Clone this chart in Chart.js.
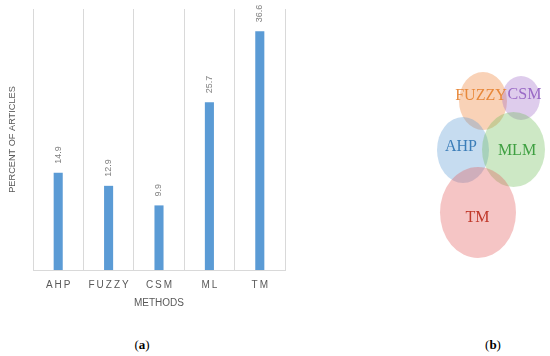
<!DOCTYPE html>
<html>
  <head>
    <title>Methods</title>
    <script src="https://cdn.jsdelivr.net/npm/chart.js"></script>
    <style>
      body { margin: 0; background: #fff; width: 550px; height: 356px; position: relative; overflow: hidden; }
      .painel { position: absolute; }
      .legenda { position: absolute; font-family: "Liberation Serif", serif; font-size: 13px; color: #000; transform: translate(-50%, -50%); }
    </style>
  </head>

  <body>
    <div class="painel" style="left: 0; top: 0; width: 300px; height: 310px">
      <canvas id="metodos"></canvas>
    </div>
    <div class="painel" style="left: 400px; top: 50px; width: 150px; height: 230px">
      <canvas id="venn"></canvas>
    </div>
    <div class="legenda" style="left: 142px; top: 345px">(<b>a</b>)</div>
    <div class="legenda" style="left: 493px; top: 345px">(<b>b</b>)</div>

    <script>
      // (a) barras
      var metodos = ["AHP", "FUZZY", "CSM", "ML", "TM"];
      var percentuais = [14.9, 12.9, 9.9, 25.7, 36.6];

      // (b) conjuntos, em unidades do grafico
      var conjuntos = ["FUZZY", "CSM", "AHP", "MLM", "TM"];
      var centroX = [83, 121, 63, 113.5, 78];
      var centroY = [51, 48, 100, 99.5, 162.5];
      var raioX = [24, 19, 26, 31.5, 38];
      var raioY = [29, 22, 33, 37.5, 45.5];
      var textoX = [81, 124.5, 61, 117, 77.5];
      var textoY = [45.5, 45, 96.5, 101, 167.5];

      var preenchimentos = [
        "rgba(237,125,49,0.35)",
        "rgba(160,110,200,0.35)",
        "rgba(91,155,213,0.35)",
        "rgba(112,190,90,0.35)",
        "rgba(225,90,90,0.35)",
      ];
      var corTexto = ["#e8883a", "#9a6ac6", "#3b7db8", "#3fa042", "#c0392b"];

      var rotulosBarras = {
        id: "rotulosBarras",
        afterDatasetsDraw(chart) {
          var ctx = chart.ctx;
          var meta = chart.getDatasetMeta(0);
          ctx.save();
          ctx.font = "9px 'Liberation Sans'";
          ctx.fillStyle = "#7f7f7f";
          ctx.textAlign = "left";
          ctx.textBaseline = "middle";
          meta.data.forEach((barra, i) => {
            ctx.save();
            ctx.translate(barra.x, barra.y - 9);
            ctx.rotate(-Math.PI / 2);
            ctx.fillText(percentuais[i].toFixed(1), 0, 0);
            ctx.restore();
          });
          ctx.restore();
        },
      };

      var rotulosEixo = {
        id: "rotulosEixo",
        afterDraw(chart) {
          var ctx = chart.ctx;
          var x = chart.scales.x;
          ctx.save();
          ctx.font = "10px 'Liberation Sans'";
          ctx.letterSpacing = "2px";
          ctx.fillStyle = "#595959";
          ctx.textAlign = "center";
          ctx.textBaseline = "middle";
          metodos.forEach((m, i) => {
            ctx.fillText(m, x.getPixelForValue(i) + 1, x.top + 15);
          });
          ctx.restore();
        },
      };

      var graficoBarras = new Chart(document.getElementById("metodos").getContext("2d"), {
        type: "bar",
        data: {
          labels: metodos,
          datasets: [
            {
              label: "Percent of articles",
              data: percentuais,
              backgroundColor: "#5b9bd5",
              barPercentage: 0.18,
              categoryPercentage: 1,
            },
          ],
        },
        options: {
          responsive: true,
          maintainAspectRatio: false,
          animation: false,
          layout: { padding: { top: 9, right: 15, left: 0, bottom: 0 } },
          plugins: { legend: { display: false }, tooltip: { enabled: false } },
          scales: {
            x: {
              grid: { display: true, offset: true, color: "#d9d9d9", drawTicks: false },
              border: { display: true, color: "#d9d9d9" },
              ticks: { display: false },
              title: {
                display: true,
                text: "METHODS",
                color: "#595959",
                font: { family: "Liberation Sans", size: 10 },
                padding: { top: 0, bottom: 1 },
              },
              afterFit(scale) {
                scale.height = 40;
              },
            },
            y: {
              min: 0,
              max: 40,
              grid: { display: false },
              border: { display: false },
              ticks: { display: false },
              title: {
                display: true,
                text: "PERCENT OF ARTICLES",
                color: "#595959",
                font: { family: "Liberation Sans", size: 9.2 },
                padding: { top: 7, bottom: 0 },
              },
              afterFit(scale) {
                scale.width = 33;
              },
            },
          },
        },
        plugins: [rotulosBarras, rotulosEixo],
      });

      var elipses = {
        id: "elipses",
        afterDatasetsDraw(chart) {
          var ctx = chart.ctx;
          var sx = chart.scales.x;
          var sy = chart.scales.y;
          ctx.save();
          conjuntos.forEach((nome, i) => {
            var cx = sx.getPixelForValue(centroX[i]);
            var cy = sy.getPixelForValue(centroY[i]);
            var rx = Math.abs(sx.getPixelForValue(centroX[i] + raioX[i]) - cx);
            var ry = Math.abs(sy.getPixelForValue(centroY[i] + raioY[i]) - cy);
            ctx.beginPath();
            ctx.ellipse(cx, cy, rx, ry, 0, 0, 2 * Math.PI);
            ctx.fillStyle = preenchimentos[i];
            ctx.fill();
          });
          ctx.font = "16px 'Liberation Serif'";
          ctx.textAlign = "center";
          ctx.textBaseline = "middle";
          conjuntos.forEach((nome, i) => {
            ctx.fillStyle = corTexto[i];
            ctx.fillText(nome, sx.getPixelForValue(textoX[i]), sy.getPixelForValue(textoY[i]));
          });
          ctx.restore();
        },
      };

      var graficoVenn = new Chart(document.getElementById("venn").getContext("2d"), {
        type: "scatter",
        data: {
          datasets: [
            {
              label: "Conjuntos",
              data: conjuntos.map((c, i) => ({ x: centroX[i], y: centroY[i] })),
              pointRadius: 0,
            },
          ],
        },
        options: {
          responsive: true,
          maintainAspectRatio: false,
          animation: false,
          layout: { padding: 0 },
          plugins: { legend: { display: false }, tooltip: { enabled: false } },
          scales: {
            x: { type: "linear", min: 0, max: 150, display: false },
            y: { type: "linear", min: 0, max: 230, reverse: true, display: false },
          },
        },
        plugins: [elipses],
      });
    </script>
  </body>
</html>
